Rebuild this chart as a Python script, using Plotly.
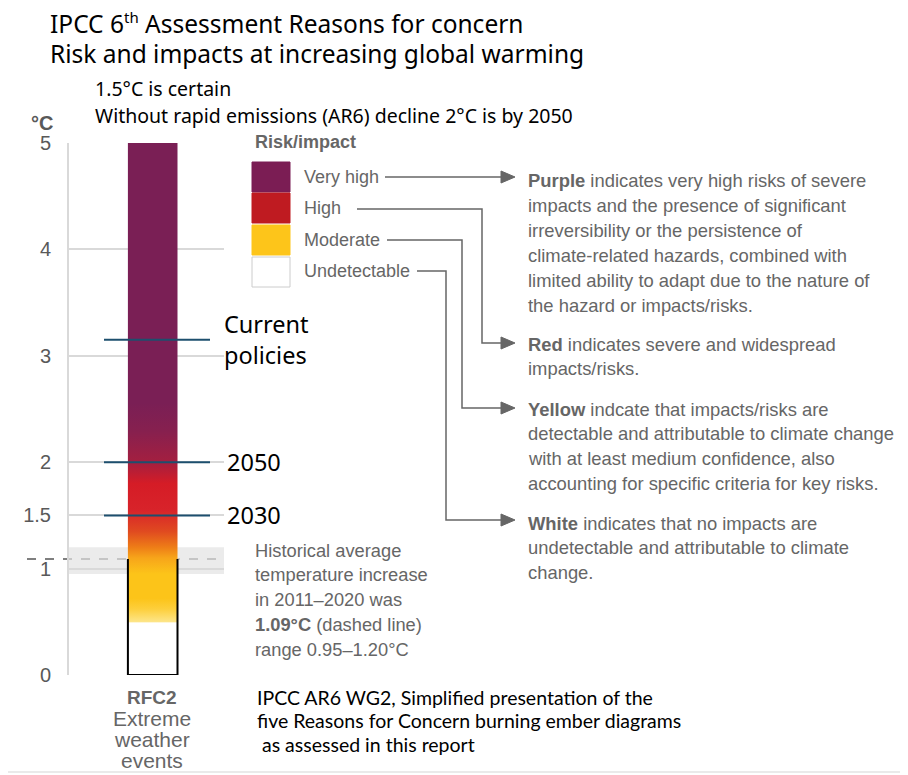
import plotly.graph_objects as go

W, H = 900, 767
OFF = 8  # page body margin

# ember colour stops (temperature in degC -> colour)
ember_temps = [0, 0.49, 0.5, 0.62, 0.72, 0.95, 1.1, 1.2, 1.35, 1.55, 1.8, 2.0, 2.3, 2.55, 5.0]
ember_colors = ['#ffffff', '#ffffff', '#fde588', '#fdcf3c', '#fcc419', '#fcc419', '#f7a51a',
                '#ee7d17', '#e04a20', '#d8232a', '#d51c26', '#a41f40', '#86204f', '#7a1f55', '#7a1f55']
y_ticks = [0, 1, 1.5, 2, 3, 4, 5]
y_ticktext = ['0', '1', '1.5', '2', '3', '4', '5']

# scenario markers
marker_temps = [3.15, 2.0, 1.5]
marker_labels = ['Current<br>policies', '2050', '2030']

# historical warming 2011-2020
hist_mean = 1.09
hist_range = [0.95, 1.20]

legend_names = ['Very high', 'High', 'Moderate', 'Undetectable']
legend_colors = ['#7b1d54', '#bf1b21', '#fdc51a', '#ffffff']

desc_purple = ['<b>Purple</b> indicates very high risks of severe',
               'impacts and the presence of significant',
               'irreversibility or the persistence of',
               'climate-related hazards, combined with',
               'limited ability to adapt due to the nature of',
               'the hazard or impacts/risks.']
desc_red = ['<b>Red</b> indicates severe and widespread', 'impacts/risks.']
desc_yellow = ['<b>Yellow</b> indcate that impacts/risks are',
               'detectable and attributable to climate change',
               'with at least medium confidence, also',
               'accounting for specific criteria for key risks.']
desc_white = ['<b>White</b> indicates that no impacts are',
              'undetectable and attributable to climate',
              'change.']
hist_text = ['Historical average', 'temperature increase', 'in 2011\u20132020 was',
             '<b>1.09°C</b> (dashed line)', 'range 0.95\u20131.20°C']
caption = ['IPCC AR6 WG2, Simplified presentation of the',
           'five Reasons for Concern burning ember diagrams',
           '\u00a0as assessed in this report']


def px(x):
    return (x - OFF) / W


def py(y):
    return 1 - (y - OFF) / H


GREY = '#666666'
ARIAL = 'Liberation Sans'
TITLE_FONT = 'Noto Sans'
CAP_FONT = 'Lato'

bar_l, bar_r = 0.38, 0.70

fig = go.Figure()

# the ember bar itself
fig.add_trace(go.Scatter(
    x=[bar_l, bar_r, bar_r, bar_l, bar_l], y=[0, 0, 5, 5, 0],
    mode='lines', line=dict(width=0), fill='toself',
    fillgradient=dict(type='vertical', start=0, stop=5,
                      colorscale=[[t / 5, c] for t, c in zip(ember_temps, ember_colors)]),
    hoverinfo='skip', showlegend=False))

# black outline up to the historical level
fig.add_trace(go.Scatter(
    x=[bar_l, bar_l, bar_r, bar_r], y=[hist_mean, 0, 0, hist_mean],
    mode='lines', line=dict(color='black', width=2),
    hoverinfo='skip', showlegend=False))

shapes = []
# grey uncertainty band
shapes.append(dict(type='rect', xref='x', yref='y', x0=0, x1=1, y0=hist_range[0], y1=hist_range[1],
                   fillcolor='#e3e3e3', opacity=0.7, line_width=0, layer='below'))
# dashed mean line
shapes.append(dict(type='line', xref='paper', yref='y', x0=px(27), x1=px(222), y0=hist_mean, y1=hist_mean,
                   line=dict(color='#555555', width=1.5, dash='dash'), layer='below'))
# scenario lines
for t in marker_temps:
    shapes.append(dict(type='line', xref='paper', yref='y', x0=px(104), x1=px(210), y0=t, y1=t,
                       line=dict(color='#1d4f6e', width=2)))

# legend boxes
box_top = [162, 193, 225, 257]
for top, c in zip(box_top, legend_colors):
    shapes.append(dict(type='rect', xref='paper', yref='paper', x0=px(252), x1=px(290),
                       y0=py(top), y1=py(top + 30), fillcolor=c,
                       line=dict(color='#cccccc' if c == '#ffffff' else c, width=1)))

# connector lines: (label end x, label y, corner x, target y)
connectors = [(385, 177, None, 180), (357, 209, 482, 343), (387, 240, 462, 408), (417, 271, 446, 520)]
tip = 515
for x0, y0, xc, yt in connectors:
    if xc is None:
        path = f'M {px(x0)} {py(y0)} L {px(tip - 12)} {py(y0)}'
        yt = y0
    else:
        path = (f'M {px(x0)} {py(y0)} L {px(xc)} {py(y0)} L {px(xc)} {py(yt)} '
                f'L {px(tip - 12)} {py(yt)}')
    shapes.append(dict(type='path', xref='paper', yref='paper', path=path,
                       line=dict(color=GREY, width=1.5)))
    head = (f'M {px(tip - 14)} {py(yt - 6)} L {px(tip)} {py(yt)} '
            f'L {px(tip - 14)} {py(yt + 6)} Z')
    shapes.append(dict(type='path', xref='paper', yref='paper', path=head,
                       fillcolor=GREY, line=dict(color=GREY, width=1)))

# faint line at the bottom
shapes.append(dict(type='line', xref='paper', yref='paper', x0=0, x1=1, y0=py(772), y1=py(772),
                   line=dict(color='#e3e3e3', width=1.5)))

ann = []


def text(x, y, s, size, color='black', family=ARIAL, xanchor='left'):
    ann.append(dict(x=px(x), y=py(y), xref='paper', yref='paper', text=s, showarrow=False,
                    xanchor=xanchor, yanchor='middle', align='left',
                    font=dict(size=size, color=color, family=family)))


# titles
text(48, 23, 'IPCC 6<sup><span style="font-size:15px">th</span></sup> Assessment Reasons for concern',
     24.5, family=TITLE_FONT)
text(48, 53, 'Risk and impacts at increasing global warming', 24.5, family=TITLE_FONT)
text(93, 88, '1.5°C is certain', 19.5, family=TITLE_FONT)
text(93, 115, 'Without rapid emissions (AR6) decline 2°C is by 2050', 19.5, family=TITLE_FONT)
text(42, 123, '<b>°C</b>', 20, color='#595959', xanchor='center')

# scenario labels
ann.append(dict(x=px(222), y=3.15, xref='paper', yref='y', text=marker_labels[0], showarrow=False,
                xanchor='left', yanchor='middle', align='left',
                font=dict(size=23.5, color='black', family=TITLE_FONT)))
for t, lab in zip(marker_temps[1:], marker_labels[1:]):
    ann.append(dict(x=px(225), y=t, xref='paper', yref='y', text=lab, showarrow=False,
                    xanchor='left', yanchor='middle',
                    font=dict(size=23.5, color='black', family=TITLE_FONT)))

# legend
text(253, 142, '<b>Risk/impact</b>', 18, color=GREY)
for i, name in enumerate(legend_names):
    text(302, 177 + i * 31.3, name, 18, color=GREY)

# descriptions
for block, y0 in [(desc_purple, 181), (desc_red, 344), (desc_yellow, 409), (desc_white, 523)]:
    for i, line in enumerate(block):
        text(526, y0 + i * 24.8, line, 18.4, color=GREY)

for i, line in enumerate(hist_text):
    text(253, 550 + i * 24.8, line, 18.3, color=GREY)

# x category label
text(152, 697, '<b>RFC2</b>', 19, color=GREY, xanchor='center')
for i, line in enumerate(['Extreme', 'weather', 'events']):
    text(152, 718 + i * 21, line, 21, color=GREY, xanchor='center')

for i, line in enumerate(caption):
    text(255, 697 + i * 23.5, line, 19.5, family=CAP_FONT)

fig.update_layout(
    width=W, height=H, template='none',
    margin=dict(l=0, r=0, t=0, b=0),
    plot_bgcolor='white', paper_bgcolor='white',
    xaxis=dict(domain=[px(69), px(224)], range=[0, 1], visible=False, fixedrange=True),
    yaxis=dict(domain=[py(675), py(143)], range=[0, 5], tickvals=y_ticks, ticktext=y_ticktext,
               showgrid=True, gridcolor='#d9d9d9', gridwidth=1.5, zeroline=False,
               showline=True, linecolor='#d9d9d9', linewidth=2, ticks='',
               ticklabelstandoff=12, automargin=False,
               tickfont=dict(size=20, color='#595959', family=ARIAL)),
    shapes=shapes, annotations=ann, showlegend=False,
)

fig.write_html('out.html')
